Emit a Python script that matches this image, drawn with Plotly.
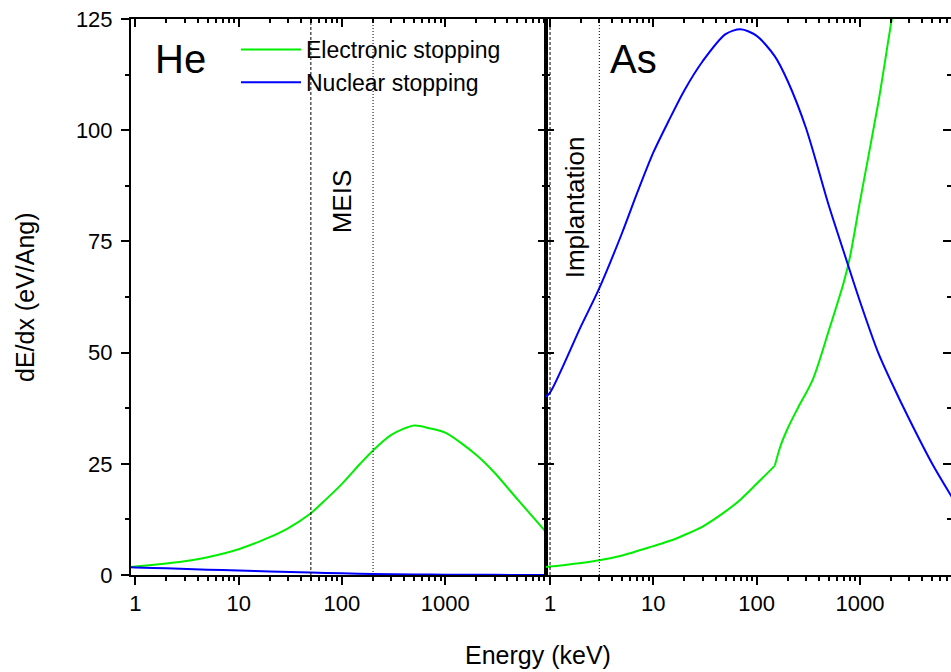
import math
import plotly.graph_objects as go

# ---------------- data ----------------
he_energy_el = [0.9, 1, 2, 3, 5, 10, 20, 30, 50, 70, 100, 150, 200, 300, 500, 700, 1000, 2000, 3000, 5000, 9500]
he_electronic = [1.8, 1.9, 2.6, 3.1, 4.0, 5.8, 8.5, 10.5, 13.9, 17.0, 20.5, 25.0, 28.0, 31.5, 33.6, 33.0, 32.0, 27.0, 23.0, 17.0, 9.6]

he_energy_nu = [0.9, 1, 2, 5, 10, 20, 50, 100, 200, 500, 1000, 3000, 9500]
he_nuclear = [1.75, 1.7, 1.5, 1.2, 1.0, 0.8, 0.55, 0.38, 0.25, 0.13, 0.08, 0.03, 0.01]

as_energy_el = [0.9, 1, 2, 3, 5, 10, 15, 20, 30, 50, 70, 100, 150, 170, 200, 250, 350, 500, 700, 800, 1000, 1500, 2000, 2300]
as_electronic = [1.8, 1.9, 2.7, 3.3, 4.4, 6.5, 7.8, 9.0, 10.9, 14.3, 17.0, 20.5, 24.6, 29.0, 33.0, 37.5, 44.0, 55.0, 66.0, 71.5, 84.0, 106.0, 124.0, 132.0]
as_kink_energy = 150

as_energy_nu = [0.9, 1, 2, 3, 5, 7, 10, 14, 20, 30, 50, 70, 100, 150, 200, 300, 500, 700, 1000, 1500, 2000, 3000, 5000, 8000]
as_nuclear = [40, 41, 56, 64.5, 77, 86, 95, 102, 109, 115.5, 121.6, 122.7, 121.2, 116.6, 111, 100.5, 83, 72.5, 61.5, 50, 43.5, 35, 25, 17]

meis_bounds = [50, 200]          # keV
implant_bounds = [1, 3]          # keV
y_span = [0, 125]

x_ticks = [1, 10, 100, 1000]
x_ticktext = ["1", "10", "100", "1000"]
y_ticks = [0, 25, 50, 75, 100, 125]

GREEN = "#00ee00"
BLUE = "#0000ff"
FONT = "Arial, Liberation Sans, sans-serif"

# ---------------- layout geometry ----------------
W, H = 951, 672
ML, MR, MT, MB = 131, 0, 19, 97
PW = W - ML - MR
PH = H - MT - MB
split = 414.7 / PW
x1_range = [-0.042, 3.972]
x2_range = [-0.042, 3.881]
y_range = [0, 125]

fig = go.Figure()

line_g = dict(color=GREEN, width=2, shape="spline", smoothing=0.8)
line_b = dict(color=BLUE, width=2, shape="spline", smoothing=0.8)

fig.add_trace(go.Scatter(x=he_energy_el, y=he_electronic, mode="lines", name="Electronic stopping",
                         line=line_g, xaxis="x", yaxis="y"))
fig.add_trace(go.Scatter(x=he_energy_nu, y=he_nuclear, mode="lines", name="Nuclear stopping",
                         line=line_b, xaxis="x", yaxis="y"))

k = as_energy_el.index(as_kink_energy)
fig.add_trace(go.Scatter(x=as_energy_el[:k + 1], y=as_electronic[:k + 1], mode="lines", showlegend=False,
                         line=line_g, xaxis="x2", yaxis="y2"))
fig.add_trace(go.Scatter(x=as_energy_el[k:], y=as_electronic[k:], mode="lines", showlegend=False,
                         line=line_g, xaxis="x2", yaxis="y2"))
fig.add_trace(go.Scatter(x=as_energy_nu, y=as_nuclear, mode="lines", showlegend=False,
                         line=line_b, xaxis="x2", yaxis="y2"))

# vertical region markers
dashes = ["3px,2px", "1px,2px"]
for e, d in zip(meis_bounds, dashes):
    fig.add_trace(go.Scatter(x=[e, e], y=y_span, mode="lines", showlegend=False,
                             line=dict(color="black", width=1, dash=d), xaxis="x", yaxis="y"))
for e, d in zip(implant_bounds, dashes):
    fig.add_trace(go.Scatter(x=[e, e], y=y_span, mode="lines", showlegend=False,
                             line=dict(color="black", width=1, dash=d), xaxis="x2", yaxis="y2"))

# dummy traces for overlay (frame) axes
fig.add_trace(go.Scatter(x=[], y=[], showlegend=False, xaxis="x3", yaxis="y3"))
fig.add_trace(go.Scatter(x=[], y=[], showlegend=False, xaxis="x4", yaxis="y4"))

tickfont = dict(family=FONT, size=22, color="black")

def xaxis(domain, rng, anchor, side="bottom", ticks="outside", labels=True, overlaying=None):
    d = dict(domain=domain, type="log", range=rng, anchor=anchor, side=side,
             showline=True, linewidth=2, linecolor="black", mirror=False,
             ticks=ticks, ticklen=8, tickwidth=1.5, tickcolor="black",
             tickmode="array", tickvals=x_ticks, ticktext=x_ticktext,
             showticklabels=labels, tickfont=tickfont,
             minor=dict(dtick="D1", ticks=ticks, ticklen=4, tickwidth=1.5, tickcolor="black", showgrid=False),
             showgrid=False, zeroline=False)
    if overlaying:
        d["overlaying"] = overlaying
    return d

def yaxis(anchor, side="left", ticks="outside", labels=True, overlaying=None, showline=True):
    d = dict(domain=[0, 1], range=y_range, anchor=anchor, side=side,
             showline=showline, linewidth=2, linecolor="black",
             ticks=ticks, ticklen=8, tickwidth=1.5, tickcolor="black",
             tickmode="array", tickvals=y_ticks, showticklabels=labels, tickfont=tickfont,
             ticklabelstandoff=4,
             minor=dict(dtick=12.5, ticks=ticks, ticklen=4, tickwidth=1.5, tickcolor="black", showgrid=False),
             showgrid=False, zeroline=False)
    if overlaying:
        d["overlaying"] = overlaying
    return d

fig.update_layout(
    width=W, height=H,
    margin=dict(l=ML, r=MR, t=MT, b=MB),
    paper_bgcolor="white", plot_bgcolor="white",
    font=dict(family=FONT, color="black"),
    xaxis=xaxis([0, split], x1_range, "y"),
    xaxis2=xaxis([split, 1], x2_range, "y2"),
    xaxis3=xaxis([0, split], x1_range, "y3", side="top", ticks="inside", labels=False, overlaying="x"),
    xaxis4=xaxis([split, 1], x2_range, "y4", side="top", ticks="inside", labels=False, overlaying="x2"),
    yaxis=yaxis("x"),
    yaxis2=yaxis("x2", ticks="inside", labels=False),
    yaxis3=yaxis("x3", side="right", ticks="inside", labels=False, overlaying="y"),
    yaxis4=yaxis("x4", side="right", ticks="inside", labels=False, overlaying="y2", showline=False),
    showlegend=True,
    legend=dict(x=(236 - ML) / PW, y=(MT + PH - 28) / PH, xanchor="left", yanchor="top",
                bgcolor="rgba(0,0,0,0)", font=dict(family=FONT, size=23, color="black"),
                itemwidth=60, tracegroupgap=0),
)

annots = [
    dict(text="He", xref="x", yref="y", x=0.174, y=116, xanchor="left", yanchor="middle",
         font=dict(size=40)),
    dict(text="As", xref="x2", yref="y2", x=0.561, y=116, xanchor="left", yanchor="middle",
         font=dict(size=40)),
    dict(text="MEIS", xref="x", yref="y", x=math.log10(100), y=84, textangle=-90,
         xanchor="center", yanchor="middle", font=dict(size=26)),
    dict(text="Implantation", xref="x2", yref="y2", x=math.log10(1.75), y=82.7, textangle=-90,
         xanchor="center", yanchor="middle", font=dict(size=26)),
    dict(text="dE/dx (eV/Ang)", xref="paper", yref="paper", x=(25 - ML) / PW, y=0.5, textangle=-90,
         xanchor="center", yanchor="middle", font=dict(size=25)),
    dict(text="Energy (keV)", xref="paper", yref="paper", x=(538 - ML) / PW, y=(MT + PH - 655) / PH,
         xanchor="center", yanchor="middle", font=dict(size=25)),
]
for a in annots:
    a["showarrow"] = False
    a["font"]["family"] = FONT
    a["font"]["color"] = "black"
fig.update_layout(annotations=annots)

fig.write_html(
    "out.html",
    config={"displayModeBar": False},
    post_script="document.body.style.margin='0px';document.documentElement.style.overflow='hidden';document.body.style.overflow='hidden';",
)
